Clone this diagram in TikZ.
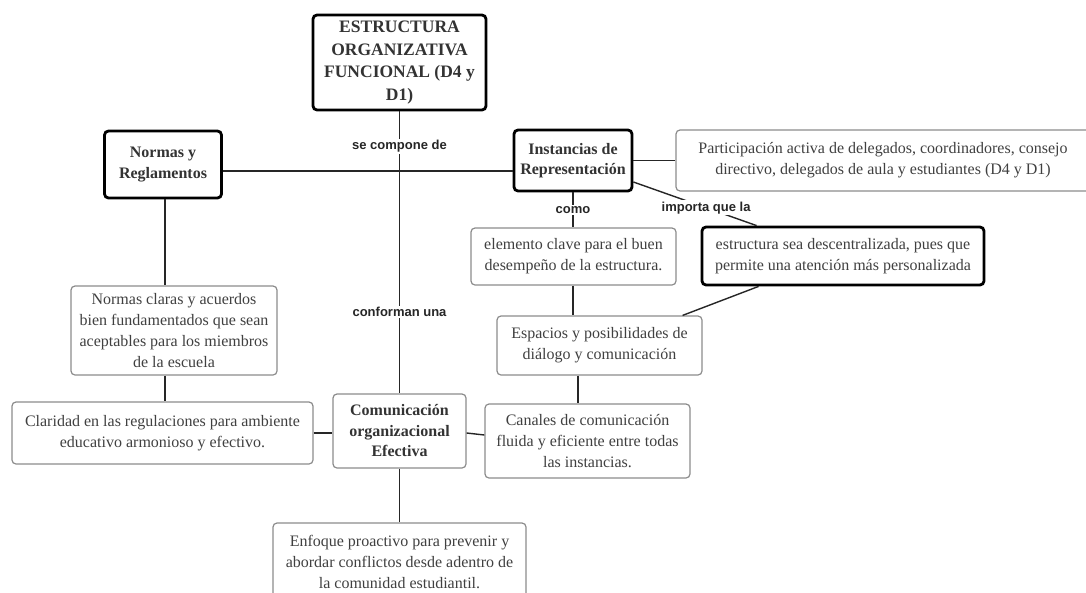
\documentclass[tikz,border=0pt]{standalone}
\usepackage{fontspec}
\setmainfont{Liberation Serif}
\setsansfont{Liberation Sans}
\begin{document}
\begin{tikzpicture}[x=1pt,y=-1pt,
  box/.style={draw=black!45, line width=1.2pt, rounded corners=4pt, fill=white, align=center,
    text=black!75, font=\fontsize{16}{21}\selectfont, inner sep=0pt},
  thickbox/.style={draw=black, line width=2.8pt, rounded corners=4pt, fill=white, align=center,
    text=black!80, font=\fontsize{16}{20.5}\selectfont\bfseries, inner sep=0pt},
  boldbox/.style={box, font=\fontsize{16}{20.5}\selectfont\bfseries, text=black!80},
  conn/.style={draw=black!85, line width=1.4pt},
  lbl/.style={fill=white, font=\sffamily\bfseries\fontsize{13}{15}\selectfont, text=black!85, inner sep=1.5pt}
]
\useasboundingbox (0,0) rectangle (1086,592);
\clip (0,0) rectangle (1086,592);
\fill[white] (0,0) rectangle (1086,592);

% nodes
\node[thickbox, minimum width=173pt, minimum height=95pt, font=\fontsize{17.5}{22.5}\selectfont\bfseries] (title) at (399.5,62.5)
  {ESTRUCTURA\\ORGANIZATIVA\\FUNCIONAL (D4 y\\D1)};
\node[thickbox, minimum width=117pt, minimum height=67pt] (norm) at (163,164.5) {Normas y\\Reglamentos};
\node[thickbox, minimum width=118pt, minimum height=61pt] (inst) at (573,160.5) {Instancias de\\Representación};
\node[box, minimum width=414pt, minimum height=61pt] (part) at (883,160.5)
  {Participación activa de delegados, coordinadores, consejo\\directivo, delegados de aula y estudiantes (D4 y D1)};
\node[box, minimum width=205pt, minimum height=57pt] (elem) at (573.5,256.5)
  {elemento clave para el buen\\desempeño de la estructura.};
\node[thickbox, minimum width=282pt, minimum height=58pt, font=\fontsize{16}{21}\selectfont, text=black!75] (est) at (843,256)
  {estructura sea descentralizada, pues que\\permite una atención más personalizada};
\node[box, minimum width=205pt, minimum height=59pt] (esp) at (599.5,345.5)
  {Espacios y posibilidades de\\diálogo y comunicación};
\node[box, minimum width=205pt, minimum height=74pt] (can) at (587.5,441)
  {Canales de comunicación\\fluida y eficiente entre todas\\las instancias.};
\node[box, minimum width=206pt, minimum height=89pt] (nc) at (174,330.5)
  {Normas claras y acuerdos\\bien fundamentados que sean\\aceptables para los miembros\\de la escuela};
\node[box, minimum width=301pt, minimum height=62pt] (cla) at (162.5,433)
  {Claridad en las regulaciones para ambiente\\educativo armonioso y efectivo.};
\node[boldbox, minimum width=133pt, minimum height=74pt] (com) at (399.5,431)
  {Comunicación\\organizacional\\Efectiva};
\node[box, minimum width=253pt, minimum height=78pt] (enf) at (399.5,562)
  {Enfoque proactivo para prevenir y\\abordar conflictos desde adentro de\\la comunidad estudiantil.};

% helper coordinates
\coordinate (hl) at (0,171);
\coordinate (vl) at (165,0);
\coordinate (v2) at (578,0);

% connectors
\draw[conn] (norm.east |- hl) -- (inst.west |- hl);
\draw[conn] (title.south) -- (com.north)
  node[lbl, pos=0.123] {se compone de}
  node[lbl, pos=0.711] {conforman una};
\draw[conn] (norm.south -| vl) -- (nc.north -| vl);
\draw[conn] (nc.south -| vl) -- (cla.north -| vl);
\draw[conn] (cla.east) -- (cla.east -| com.west);
\draw[conn] ([yshift=-2pt]com.east) -- ([yshift=6pt]can.west);
\draw[conn] (com.south) -- (enf.north);
\draw[conn] (inst.east) -- (part.west);
\draw[conn] (inst.south) -- (inst.south |- elem.north) node[lbl, midway] {como};
\draw[conn] ([yshift=-21.5pt]inst.east) -- ([xshift=56pt]est.north west) node[lbl, pos=0.59] {importa que la};
\draw[conn] (elem.south -| inst.south) -- (esp.north -| inst.south);
\draw[conn] ([xshift=58pt]est.south west) -- ([xshift=-20pt]esp.north east);
\draw[conn] (esp.south -| v2) -- (can.north -| v2);
\end{tikzpicture}
\end{document}
